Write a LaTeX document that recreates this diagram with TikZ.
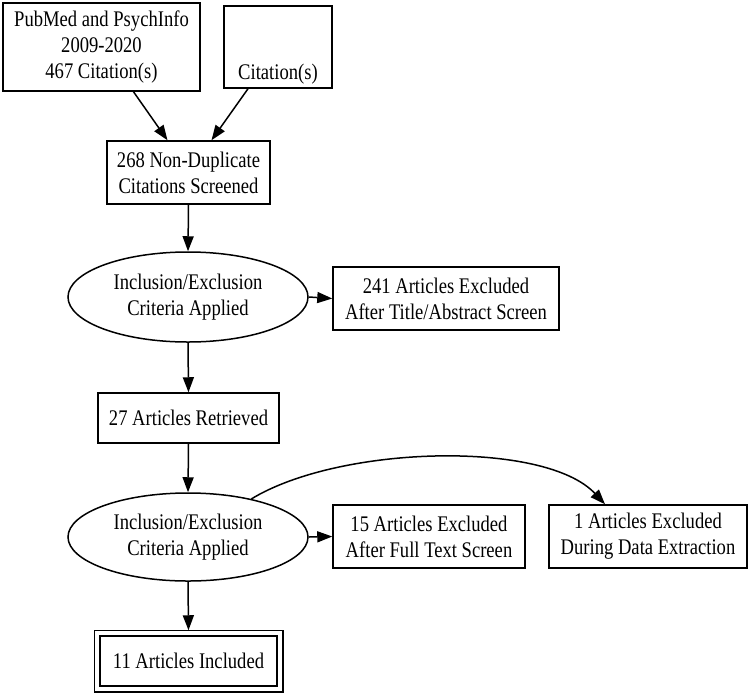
\documentclass[tikz,border=0pt]{standalone}
\usepackage{fontspec}
\usepackage{graphicx}
\setmainfont{Liberation Serif}
\usetikzlibrary{arrows.meta,shapes.geometric}
\newcommand{\vl}[1]{\scalebox{1}[1.2]{#1}}
\begin{document}
\begin{tikzpicture}[x=1pt,y=-1pt,
  every node/.style={font=\fontsize{18.6}{26}\selectfont, align=center, inner sep=0pt},
  box/.style={draw, line width=1.5pt, rectangle},
  oval/.style={draw, line width=1.5pt, ellipse},
  conn/.style={line width=1.5pt, -{Triangle[length=15pt,width=11pt]}}]
\useasboundingbox (0,0) rectangle (749,694);
\node[box, minimum width=197pt, minimum height=88pt] (src1) at (101.5,47) {\vl{PubMed and PsychInfo}\\\vl{2009-2020}\\\vl{467 Citation(s)}};
\node[box, minimum width=108pt, minimum height=82pt] (src2) at (278,47) {\strut\\\strut\\\vl{Citation(s)}};
\node[box, minimum width=163pt, minimum height=63pt] (nondup) at (188.5,172.5) {\vl{268 Non-Duplicate}\\\vl{Citations Screened}};
\node[oval, minimum width=240pt, minimum height=90pt] (crit1) at (188,297) {\vl{Inclusion/Exclusion}\\\vl{Criteria Applied}};
\node[box, minimum width=226pt, minimum height=63pt] (ex1) at (446,298.5) {\vl{241 Articles Excluded}\\\vl{After Title/Abstract Screen}};
\node[box, minimum width=181pt, minimum height=50pt] (retr) at (188.5,418) {\vl{27 Articles Retrieved}};
\node[oval, minimum width=240pt, minimum height=88pt] (crit2) at (188,537) {\vl{Inclusion/Exclusion}\\\vl{Criteria Applied}};
\node[box, minimum width=192pt, minimum height=63pt] (ex2) at (429,536.5) {\vl{15 Articles Excluded}\\\vl{After Full Text Screen}};
\node[box, minimum width=198pt, minimum height=63pt] (ex3) at (648,536.5) {\vl{1 Articles Excluded}\\\vl{During Data Extraction}};
\node[box, minimum width=177pt, minimum height=50pt] (incl) at (188.5,661) {\vl{11 Articles Included}};
\draw[line width=1.5pt] ([xshift=-5pt,yshift=5pt]incl.north west) rectangle ([xshift=5pt,yshift=-5pt]incl.south east);
\coordinate (inclTop) at ([yshift=5pt]incl.north);
\draw[conn] ([xshift=32pt]src1.south) -- ([xshift=-21pt]nondup.north);
\draw[conn] ([xshift=-30pt]src2.south) -- ([xshift=23pt]nondup.north);
\draw[conn] (nondup.south) -- (crit1.north);
\draw[conn] (crit1.east) -- (ex1.west);
\draw[conn] (crit1.south) -- (retr.north);
\draw[conn] (retr.south) -- (crit2.north);
\draw[conn] (crit2.east) -- (ex2.west);
\draw[conn] (crit2.south) -- (inclTop);
\draw[conn] (crit2.31) .. controls (340,445) and (545,440) .. ([xshift=-43pt]ex3.north);
\end{tikzpicture}
\end{document}
